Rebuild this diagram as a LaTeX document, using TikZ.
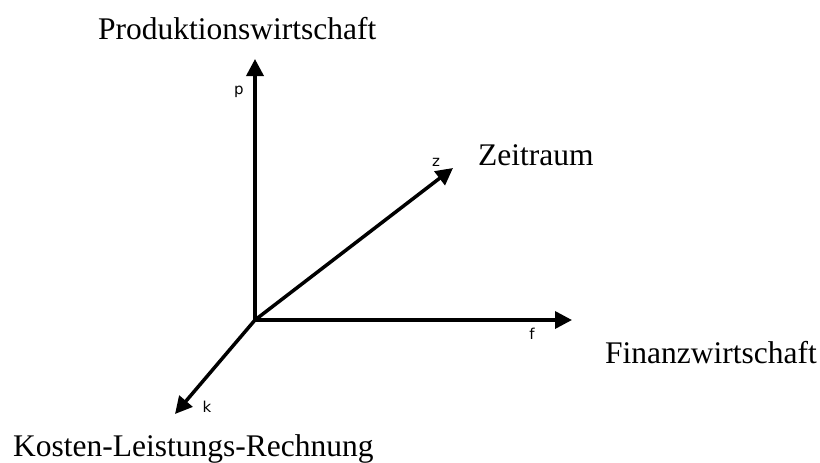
\documentclass[tikz,border=0pt]{standalone}
\usepackage{fontspec}
\setmainfont{Liberation Serif}
\newfontfamily\lblfont{DejaVu Sans}
\usetikzlibrary{arrows.meta}
\begin{document}
\begin{tikzpicture}[x=1pt,y=-1pt,
  axis/.style={line width=3.5pt,-{Triangle[length=17pt,width=17pt]}},
  big/.style={font=\fontsize{31.5}{36}\selectfont,inner sep=0pt,anchor=base west},
  small/.style={font=\fontsize{15}{18}\selectfont\lblfont,inner sep=0pt}]
\useasboundingbox (0,0) rectangle (820,463);
\coordinate (o) at (255,320);
\coordinate (p) at (255,59);
\coordinate (f) at (572,320);
\coordinate (z) at (453,168);
\coordinate (k) at (175,414);
\draw[axis] (o) -- (p);
\draw[axis] (o) -- (f);
\draw[axis] (o) -- (z);
\draw[axis] (o) -- (k);
\node[small] (lp) at (239,92) {p};
\node[small] (lz) at (436,162) {z};
\node[small] (lk) at (207,407) {k};
\node[small] (lf) at (532,334) {f};
\node[big] (tp) at (98,39) {Produktionswirtschaft};
\node[big] (tz) at (478,165) {Zeitraum};
\node[big] (tf) at (605,363) {Finanzwirtschaft};
\node[big] (tk) at (13,456) {Kosten-Leistungs-Rechnung};
\end{tikzpicture}
\end{document}
